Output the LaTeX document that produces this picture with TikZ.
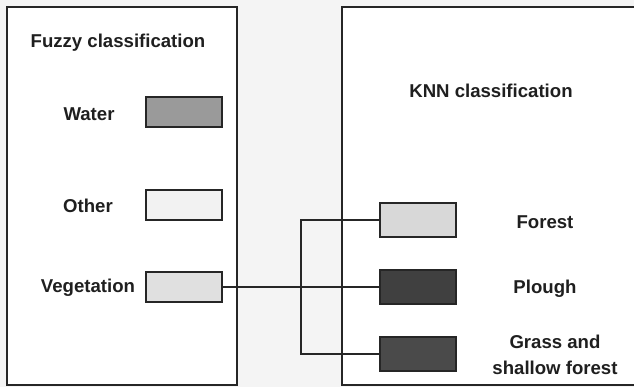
\documentclass[tikz,border=0pt]{standalone}
\usepackage{fontspec}
\setmainfont{Liberation Sans}
\definecolor{bgc}{HTML}{F4F4F4}
\definecolor{linec}{HTML}{262626}
\definecolor{waterc}{HTML}{9A9A9A}
\definecolor{otherc}{HTML}{F2F2F2}
\definecolor{vegc}{HTML}{E0E0E0}
\definecolor{forestc}{HTML}{D8D8D8}
\definecolor{ploughc}{HTML}{404040}
\definecolor{grassc}{HTML}{4A4A4A}
\begin{document}
\begin{tikzpicture}[x=1pt,y=-1pt,
  panel/.style={draw=linec,line width=2pt,fill=white},
  swatch/.style={draw=linec,line width=2pt,minimum width=76pt,minimum height=30pt,inner sep=0pt},
  lbl/.style={font=\fontsize{18.6}{21}\selectfont\bfseries,text=black!88,inner sep=0pt},
  conn/.style={draw=linec,line width=1.8pt}]
\fill[bgc] (0,0) rectangle (634,387);
\useasboundingbox (0,0) rectangle (634,387);
\draw[panel] (7,7) rectangle (237,385);
\draw[panel] (341.5,7) rectangle (640,384.5);
% left panel
\node[lbl] (fuzzy) at (118,43) {Fuzzy classification};
\node[swatch,fill=waterc] (water) at (184,112.5) {};
\node[swatch,fill=otherc] (other) at (184,205) {};
\node[swatch,fill=vegc] (veg) at (184,287) {};
\node[lbl] (lwater) at (89,114) {Water};
\node[lbl] (lother) at (88,205.5) {Other};
\node[lbl] (lveg) at (88,288) {Vegetation};
% right panel
\node[lbl] (knn) at (491,91) {KNN classification};
\node[swatch,fill=forestc,minimum height=34pt] (forest) at (418,220) {};
\node[swatch,fill=ploughc,minimum height=34pt] (plough) at (418,287) {};
\node[swatch,fill=grassc,minimum height=34pt] (grass) at (418,354) {};
\node[lbl] (lforest) at (545,222) {Forest};
\node[lbl] (lplough) at (545,289) {Plough};
\node[lbl,align=center,font=\fontsize{18.6}{26}\selectfont\bfseries] (lgrass) at (555,355) {Grass and\\shallow forest};
% connectors
\coordinate (jt) at (301,220);
\coordinate (jm) at (301,287);
\coordinate (jb) at (301,354);
\draw[conn] (veg.east) -- (jm) -- (plough.west);
\draw[conn] (forest.west) -- (jt) -- (jb) -- (grass.west);
\end{tikzpicture}
\end{document}
